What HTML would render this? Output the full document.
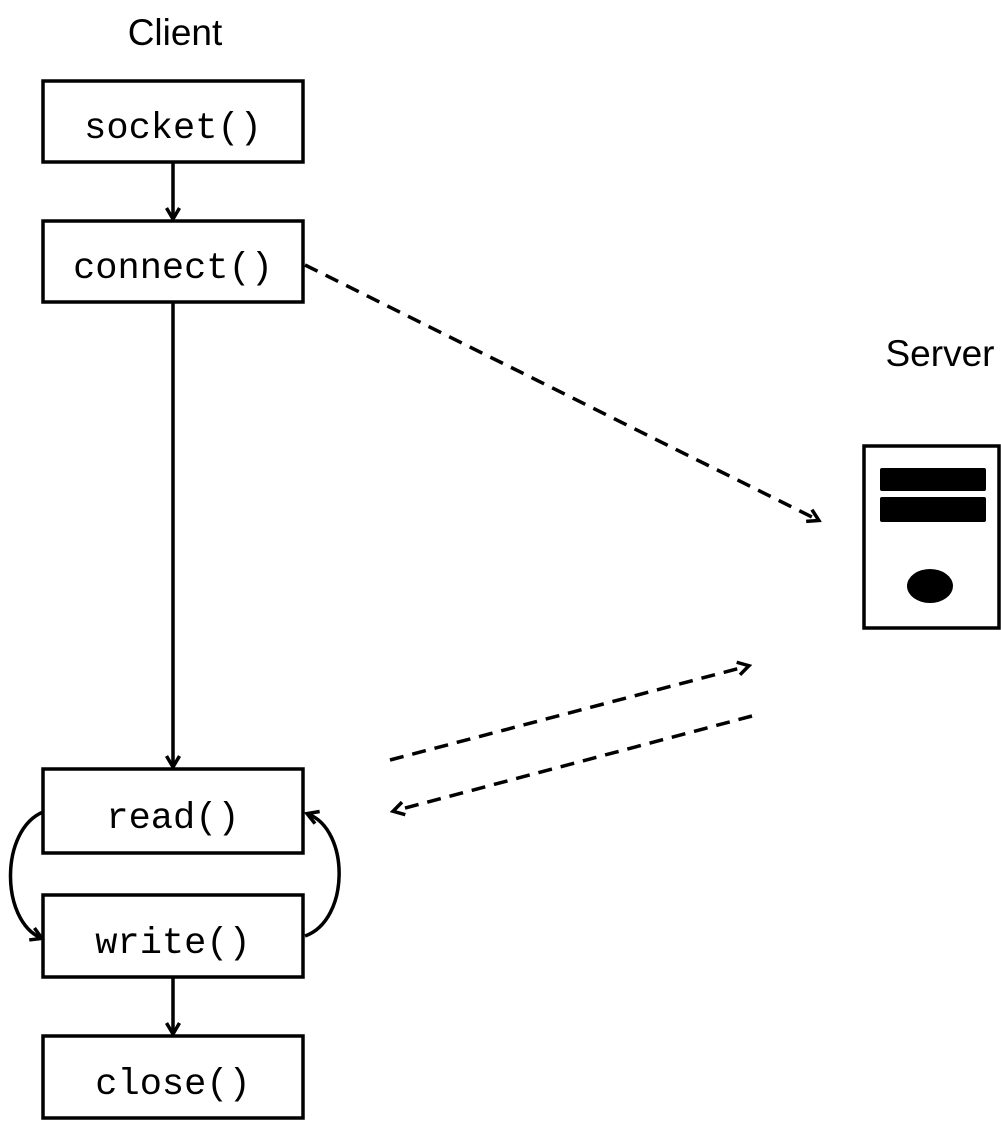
<!DOCTYPE html>
<html><head><style>
body{margin:0;background:#fff;width:1001px;height:1122px;overflow:hidden}
svg{display:block}
.m{font-family:"Liberation Mono",monospace;font-size:37px;fill:#000}
.s{font-family:"Liberation Sans",sans-serif;font-size:37px;fill:#000}
</style></head><body>
<svg width="1001" height="1122" viewBox="0 0 1001 1122">
<defs>
<marker id="a" markerWidth="16" markerHeight="16" refX="12" refY="8" orient="auto" markerUnits="userSpaceOnUse">
<path d="M2,1.5 L13,8 L2,14.5" fill="none" stroke="#000" stroke-width="3.5"/>
</marker>
</defs>
<text class="s" x="175" y="45" text-anchor="middle">Client</text>
<text class="s" x="940" y="366" text-anchor="middle">Server</text>
<g fill="#fff" stroke="#000" stroke-width="3.5">
<rect x="43" y="81" width="260" height="81"/>
<rect x="43" y="221" width="260" height="81"/>
<rect x="43" y="769" width="260" height="84"/>
<rect x="43" y="895" width="260" height="82"/>
<rect x="43" y="1036" width="260" height="82"/>
<rect x="864" y="446" width="135" height="182"/>
</g>
<rect x="880" y="468" width="106" height="23" rx="2"/>
<rect x="880" y="497" width="106" height="25" rx="2"/>
<ellipse cx="930" cy="586" rx="23" ry="17"/>
<text class="m" x="173" y="138" text-anchor="middle">socket()</text>
<text class="m" x="173" y="278" text-anchor="middle">connect()</text>
<text class="m" x="173" y="828" text-anchor="middle">read()</text>
<text class="m" x="173" y="953" text-anchor="middle">write()</text>
<text class="m" x="173" y="1094" text-anchor="middle">close()</text>
<g fill="none" stroke="#000" stroke-width="3.5">
<line x1="173" y1="162" x2="173" y2="218" marker-end="url(#a)"/>
<line x1="173" y1="302" x2="173" y2="766" marker-end="url(#a)"/>
<line x1="173" y1="977" x2="173" y2="1033" marker-end="url(#a)"/>
<path d="M43,812 C0,830 0,920 41,938" marker-end="url(#a)"/>
<path d="M305,936 C350,920 350,830 308,814" marker-end="url(#a)"/>
<g stroke-dasharray="14,9">
<line x1="305" y1="265" x2="818" y2="520" marker-end="url(#a)"/>
<line x1="390" y1="760" x2="748" y2="666" marker-end="url(#a)"/>
<line x1="752" y1="716" x2="394" y2="811" marker-end="url(#a)"/>
</g>
</g>
</svg>
</body></html>
